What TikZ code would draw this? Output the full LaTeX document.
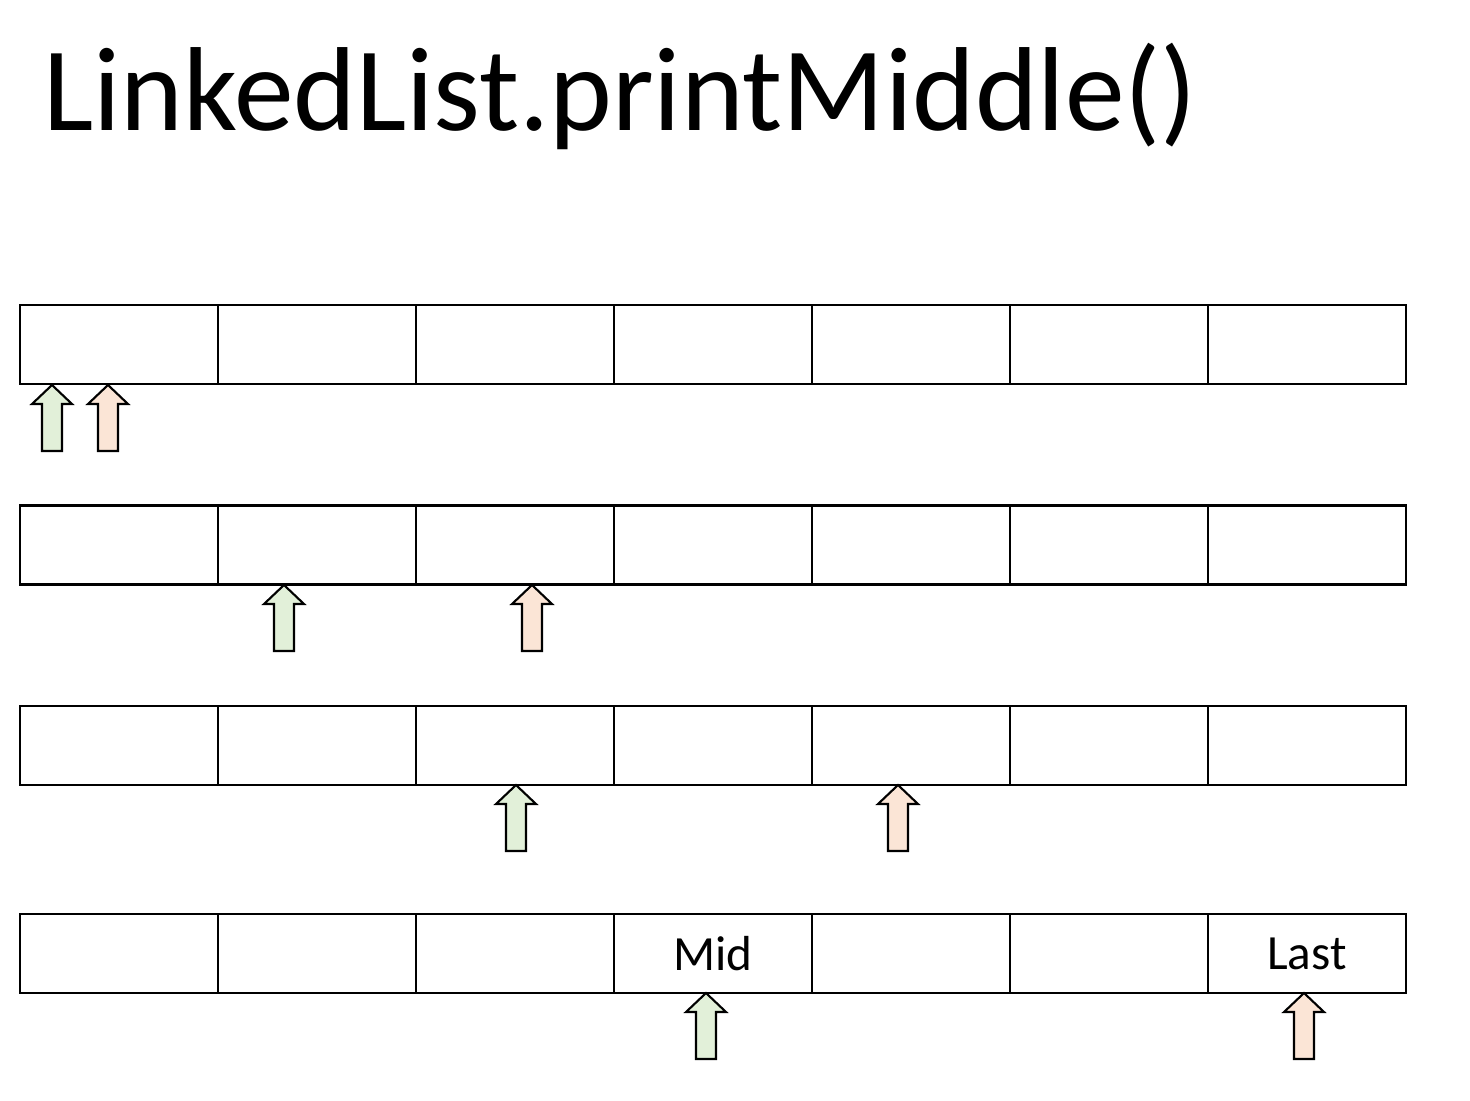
\documentclass[tikz,border=0pt]{standalone}
\usepackage{fontspec}
\setmainfont{Carlito}
\usepackage{tikz}
\usetikzlibrary{positioning}

\definecolor{slowfill}{HTML}{E2F0D9}
\definecolor{fastfill}{HTML}{FBE5D6}

\begin{document}
\begin{tikzpicture}[
			x=0.02cm,y=-0.02cm,
			cell/.style={
				draw,
				line width=1.6pt,
				minimum width=3.96cm,
				minimum height=1.58cm,
				inner sep=0pt,
				font=\fontsize{28pt}{32pt}\selectfont
			},
			ptr/.pic={
				\draw[line width=1.2pt,line join=miter,fill=#1]
				(0,0)--(20,19)--(10,19)--(10,66)--(-10,66)--(-10,19)--(-20,19)--cycle;
			}
			]
			
			\useasboundingbox (0,0) rectangle (1470,1100);
			
			\node[anchor=base west,inner sep=0pt,
				font=\fontsize{68pt}{74pt}\selectfont] (title) at (43,130)
			{LinkedList.printMiddle()};
			
			% list rows
			\foreach \r/\y in {1/344.5,2/545,3/745.5}
			\foreach \c in {1,...,7}
			\node[cell] (r\r c\c) at ({20+99+(\c-1)*198},\y) {};
			
			\foreach \c/\t in {1/,2/,3/,4/Mid,5/,6/,7/Last}
			\node[cell] (r4c\c) at ({20+99+(\c-1)*198},953.5) {\t};
			
			% slow and fast pointers
			\pic at (52,385) {ptr=slowfill};
			\pic at (108,385) {ptr=fastfill};
			
			\pic at (284,585) {ptr=slowfill};
			\pic at (532,585) {ptr=fastfill};
			
			\pic at (516,785) {ptr=slowfill};
			\pic at (898,785) {ptr=fastfill};
			
			\pic at (706,993) {ptr=slowfill};
			\pic at (1304,993) {ptr=fastfill};
			
		\end{tikzpicture}
\end{document}
